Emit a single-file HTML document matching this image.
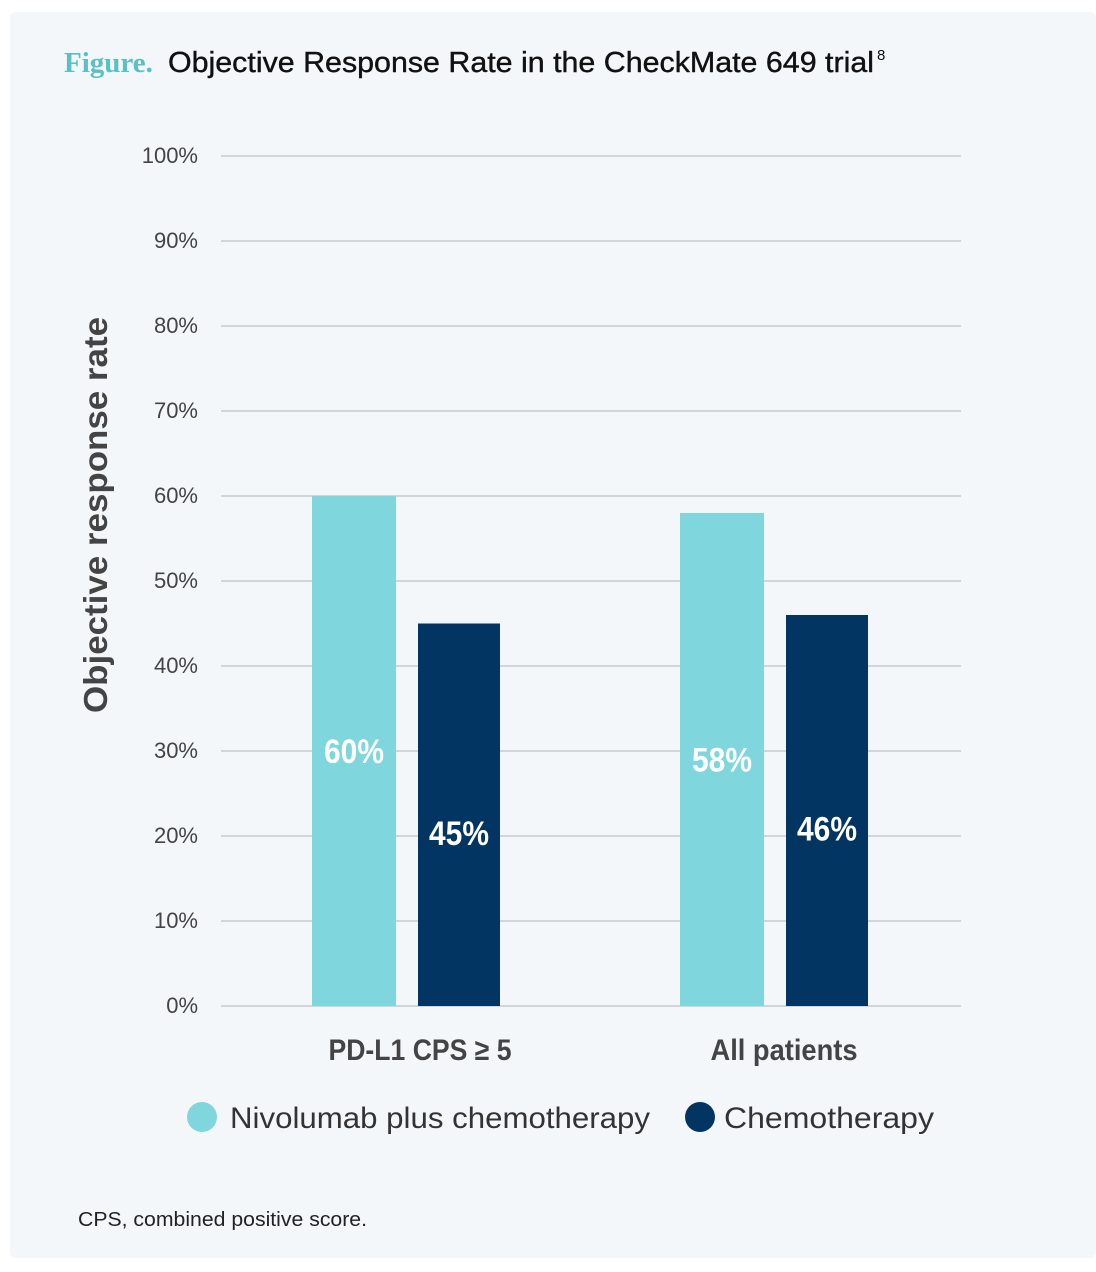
<!DOCTYPE html>
<html><head><meta charset="utf-8"><style>
body{margin:0;width:1096px;height:1272px;background:#fff;font-family:"Liberation Sans",sans-serif;overflow:hidden}
#panel{position:absolute;left:10px;top:12px;width:1086px;height:1246px;background:#f3f7fa;border-radius:6px}
</style></head><body>
<div id="panel"></div>
<svg width="1096" height="1272" style="position:absolute;left:0;top:0">
<text x="64" y="72" font-size="29" font-family="Liberation Serif" font-weight="bold" fill="#5bbfc6">Figure.</text>
<text x="168" y="72" font-size="29" fill="#111" stroke="#111" stroke-width="0.4" textLength="706" lengthAdjust="spacingAndGlyphs">Objective Response Rate in the CheckMate 649 trial</text>
<text x="877" y="60" font-size="15" fill="#111">8</text>
<g id="grid"></g><g id="bars"></g>
<text transform="translate(107,515) rotate(-90)" text-anchor="middle" font-size="33" font-weight="bold" fill="#444" textLength="396" lengthAdjust="spacingAndGlyphs">Objective response rate</text>
<g>
<circle cx="202" cy="1117" r="15" fill="#7fd6dc"/>
<text x="230" y="1128" font-size="30" fill="#333" textLength="420" lengthAdjust="spacingAndGlyphs">Nivolumab plus chemotherapy</text>
<circle cx="700" cy="1117" r="15" fill="#033563"/>
<text x="724" y="1128" font-size="30" fill="#333" textLength="210" lengthAdjust="spacingAndGlyphs">Chemotherapy</text>
</g>
<text x="78" y="1226" font-size="20" fill="#222" textLength="289" lengthAdjust="spacingAndGlyphs">CPS, combined positive score.</text>
</svg>
<script>
const categories=["PD-L1 CPS \u2265 5","All patients"];
const nivoValues=[60,58];
const chemoValues=[45,46];
const ticks=[0,10,20,30,40,50,60,70,80,90,100];
const NS="http://www.w3.org/2000/svg";
const y=v=>1006-v*8.5;
const grid=document.getElementById('grid'),bars=document.getElementById('bars');
function mk(tag,attrs,parent,txt){const e=document.createElementNS(NS,tag);for(const k in attrs)e.setAttribute(k,attrs[k]);if(txt!==undefined)e.textContent=txt;parent.appendChild(e);return e;}
ticks.forEach(t=>{
 const l=mk('line',{x1:221,x2:961,y1:y(t),y2:y(t),stroke:'#c8ccd0','stroke-width':1.5},grid);
 
 
 const tx=mk('text',{x:198,y:y(t)+7,'text-anchor':'end','font-size':22,fill:'#444'},grid,t+'%');
 
 
});
const groupX=[312,680];
categories.forEach((c,i)=>{
 const gx=groupX[i];
 const series=[[nivoValues[i],gx,84,'#7fd6dc','nivolumab'],[chemoValues[i],gx+106,82,'#033563','chemotherapy']];
 series.forEach(([v,x,w,col,nm],j)=>{
  const r=mk('rect',{x:x,y:y(v),width:w,height:y(0)-y(v),fill:col},bars);
  
  
  const ly=j===0?y(v/2)+12:y(v/2)+30;
  const t=mk('text',{x:x+w/2-30,y:ly,'font-size':34,'font-weight':'bold',fill:'#fff',textLength:60,lengthAdjust:'spacingAndGlyphs'},bars,v+'%');
  
  
 });
 const lw=i===0?183:147;
 const cl=mk('text',{x:gx+104-lw/2+(i===0?4:0),y:1060,'font-size':30,'font-weight':'bold',fill:'#444',textLength:lw,lengthAdjust:'spacingAndGlyphs'},bars,c);
 
 
});
</script>
</body></html>
